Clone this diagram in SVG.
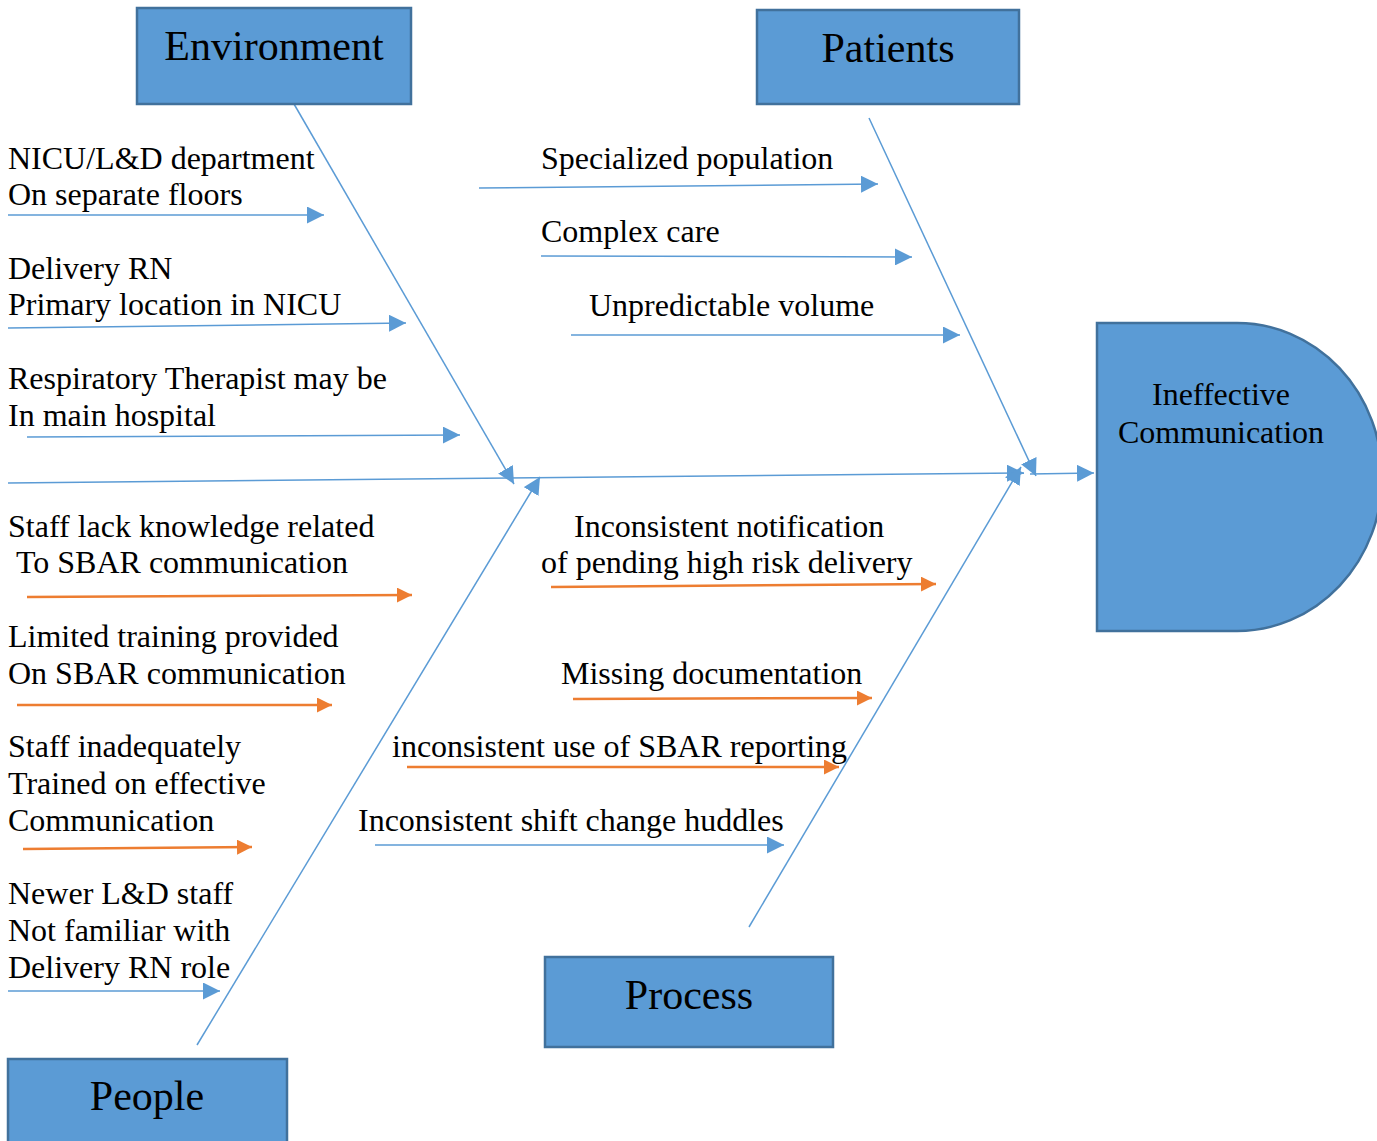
<svg xmlns="http://www.w3.org/2000/svg" width="1377" height="1141" viewBox="0 0 1377 1141">
<defs>
<style>
.box{fill:#5B9BD5;stroke:#41719C;stroke-width:2.5}
.t{font-family:"Liberation Serif","Times New Roman",serif;font-size:32px;fill:#000}
.title{font-family:"Liberation Serif","Times New Roman",serif;font-size:42px;fill:#000;text-anchor:middle}
.b{stroke:#5B9BD5;stroke-width:1.5;fill:none}
.o{stroke:#ED7D31;stroke-width:2.5;fill:none}
</style>
<marker id="abl" viewBox="0 0 10 10" refX="10" refY="5" markerWidth="17" markerHeight="17" markerUnits="userSpaceOnUse" orient="auto"><path d="M0,0 L10,5 L0,10 Z" fill="#5B9BD5"/></marker>
<marker id="ao" viewBox="0 0 10 10" refX="10" refY="5" markerWidth="15" markerHeight="15" markerUnits="userSpaceOnUse" orient="auto"><path d="M0,0 L10,5 L0,10 Z" fill="#ED7D31"/></marker>
</defs>
<rect width="1377" height="1141" fill="#fff"/>

<g id="connectors">
<line class="b" x1="8" y1="483" x2="1024" y2="473" marker-end="url(#abl)"/>
<line class="b" x1="1030" y1="474" x2="1094" y2="473" marker-end="url(#abl)"/>
<line class="b" x1="294" y1="104" x2="514" y2="484" marker-end="url(#abl)"/>
<line class="b" x1="197" y1="1045" x2="540" y2="477" marker-end="url(#abl)"/>
<line class="b" x1="869" y1="118" x2="1036" y2="476" marker-end="url(#abl)"/>
<line class="b" x1="749" y1="927" x2="1021" y2="467" marker-end="url(#abl)"/>

<line class="b" x1="8" y1="215" x2="324" y2="215" marker-end="url(#abl)"/>
<line class="b" x1="8" y1="328" x2="406" y2="323" marker-end="url(#abl)"/>
<line class="b" x1="27" y1="437" x2="460" y2="435" marker-end="url(#abl)"/>
<line class="o" x1="27" y1="597" x2="412" y2="595" marker-end="url(#ao)"/>
<line class="o" x1="17" y1="705" x2="332" y2="705" marker-end="url(#ao)"/>
<line class="o" x1="23" y1="849" x2="252" y2="847" marker-end="url(#ao)"/>
<line class="b" x1="8" y1="991" x2="220" y2="991" marker-end="url(#abl)"/>

<line class="b" x1="479" y1="188" x2="878" y2="184" marker-end="url(#abl)"/>
<line class="b" x1="541" y1="256" x2="912" y2="257" marker-end="url(#abl)"/>
<line class="b" x1="571" y1="335" x2="960" y2="335" marker-end="url(#abl)"/>
<line class="o" x1="551" y1="587" x2="936" y2="584" marker-end="url(#ao)"/>
<line class="o" x1="573" y1="699" x2="872" y2="698" marker-end="url(#ao)"/>
<line class="o" x1="407" y1="767" x2="839" y2="767" marker-end="url(#ao)"/>
<line class="b" x1="375" y1="845" x2="784" y2="845" marker-end="url(#abl)"/>
</g>

<g id="environment">
<rect class="box" x="137" y="8" width="274" height="96"/>
<text class="title" x="274" y="60">Environment</text>
</g>
<g id="patients">
<rect class="box" x="757" y="10" width="262" height="94"/>
<text class="title" x="888" y="62">Patients</text>
</g>
<g id="process">
<rect class="box" x="545" y="957" width="288" height="90"/>
<text class="title" x="689" y="1009">Process</text>
</g>
<g id="people">
<rect class="box" x="8" y="1059" width="279" height="95"/>
<text class="title" x="147" y="1110">People</text>
</g>
<g id="head">
<path class="box" d="M1097,323 H1237 A145,154 0 0 1 1237,631 H1097 Z"/>
<text class="t" x="1221" y="405" text-anchor="middle">Ineffective</text>
<text class="t" x="1221" y="443" text-anchor="middle">Communication</text>
</g>

<g id="labels">
<text class="t" x="8" y="169">NICU/L&amp;D department</text>
<text class="t" x="8" y="205">On separate floors</text>
<text class="t" x="8" y="279">Delivery RN</text>
<text class="t" x="8" y="315">Primary location in NICU</text>
<text class="t" x="8" y="389">Respiratory Therapist may be</text>
<text class="t" x="8" y="426">In main hospital</text>
<text class="t" x="8" y="537">Staff lack knowledge related</text>
<text class="t" x="16" y="573">To SBAR communication</text>
<text class="t" x="8" y="647">Limited training provided</text>
<text class="t" x="8" y="684">On SBAR communication</text>
<text class="t" x="8" y="757">Staff inadequately</text>
<text class="t" x="8" y="794">Trained on effective</text>
<text class="t" x="8" y="831">Communication</text>
<text class="t" x="8" y="904">Newer L&amp;D staff</text>
<text class="t" x="8" y="941">Not familiar with</text>
<text class="t" x="8" y="978">Delivery RN role</text>
<text class="t" x="541" y="169">Specialized population</text>
<text class="t" x="541" y="242">Complex care</text>
<text class="t" x="589" y="316">Unpredictable volume</text>
<text class="t" x="574" y="537">Inconsistent notification</text>
<text class="t" x="541" y="573">of pending high risk delivery</text>
<text class="t" x="561" y="684">Missing documentation</text>
<text class="t" x="392" y="757">inconsistent use of SBAR reporting</text>
<text class="t" x="358" y="831">Inconsistent shift change huddles</text>
</g>
</svg>
